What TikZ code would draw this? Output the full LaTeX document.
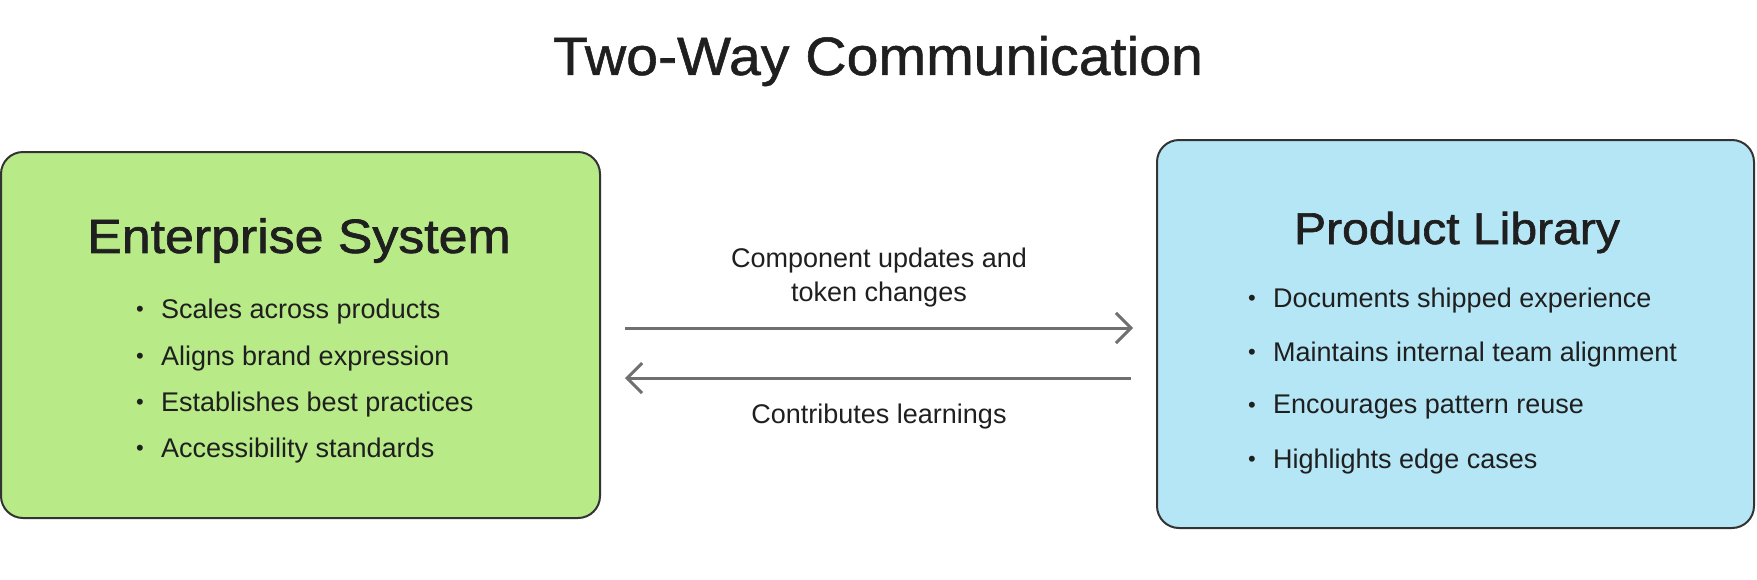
\documentclass[tikz,border=0pt]{standalone}
\usepackage{fontspec}
\setmainfont{Liberation Sans}
\newfontfamily\titlefont[FakeBold=1.0, FakeStretch=1.06]{Liberation Sans}
\newfontfamily\headfont[FakeBold=1.4, FakeStretch=1.08]{Liberation Sans}
\usetikzlibrary{arrows.meta}
\definecolor{inkc}{HTML}{1F1F1F}
\definecolor{greenf}{HTML}{B8EA88}
\definecolor{bluef}{HTML}{B5E6F5}
\definecolor{edgec}{HTML}{333333}
\definecolor{arrc}{HTML}{707070}
\tikzset{
  panel/.style={draw=edgec, line width=2pt, rounded corners=22pt, inner sep=0pt},
  heading/.style={text=inkc, inner sep=0pt, anchor=center},
  bulletdot/.style={text=inkc, inner sep=0pt, anchor=center, font=\fontsize{22}{26}\selectfont},
  itemtext/.style={text=inkc, inner sep=0pt, anchor=west, font=\fontsize{27}{31}\selectfont},
  lbl/.style={text=inkc, inner sep=0pt, anchor=center, font=\fontsize{27}{34}\selectfont, align=center},
  flow/.style={draw=arrc, line width=3pt, -{Straight Barb[length=15pt,width=30pt,line width=3pt]}}
}
\begin{document}
\begin{tikzpicture}[x=1pt,y=-1pt]
\useasboundingbox (0,0) rectangle (1757,579);
\node[heading, font=\titlefont\fontsize{54}{60}\selectfont] (title) at (878,61) {Two-Way Communication};
% boxes
\node[panel, fill=greenf, minimum width=599pt, minimum height=366pt] (es) at (300.5,335) {};
\node[panel, fill=bluef, minimum width=597pt, minimum height=388pt] (pl) at (1455.5,334) {};
% headings
\node[heading, font=\headfont\fontsize{48}{54}\selectfont] (esh) at (299,240.5) {Enterprise System};
\node[heading, font=\headfont\fontsize{44.5}{50}\selectfont] (plh) at (1457,232.5) {Product Library};
% left bullets
\node[bulletdot] (eb1) at (140,311.5) {•};
\node[itemtext] (et1) at (161,311.5) {Scales across products};
\node[bulletdot] (eb2) at (140,358.5) {•};
\node[itemtext] (et2) at (161,358.5) {Aligns brand expression};
\node[bulletdot] (eb3) at (140,404.5) {•};
\node[itemtext] (et3) at (161,404.5) {Establishes best practices};
\node[bulletdot] (eb4) at (140,450.5) {•};
\node[itemtext] (et4) at (161,450.5) {Accessibility standards};
% right bullets
\node[bulletdot] (pb1) at (1252,300.5) {•};
\node[itemtext] (pt1) at (1273,300.5) {Documents shipped experience};
\node[bulletdot] (pb2) at (1252,354.5) {•};
\node[itemtext] (pt2) at (1273,354.5) {Maintains internal team alignment};
\node[bulletdot] (pb3) at (1252,407.5) {•};
\node[itemtext] (pt3) at (1273,407.5) {Encourages pattern reuse};
\node[bulletdot] (pb4) at (1252,461.5) {•};
\node[itemtext] (pt4) at (1273,461.5) {Highlights edge cases};
% arrows
\draw[flow, shorten <=24pt, shorten >=23pt] (es.east |- 0,328) -- (pl.west |- 0,328);
\draw[flow, shorten <=25pt, shorten >=24pt] (pl.west |- 0,378) -- (es.east |- 0,378);
\node[lbl] (l1) at (879,277.5) {Component updates and\\token changes};
\node[lbl] (l2) at (879,416.5) {Contributes learnings};
\end{tikzpicture}
\end{document}
